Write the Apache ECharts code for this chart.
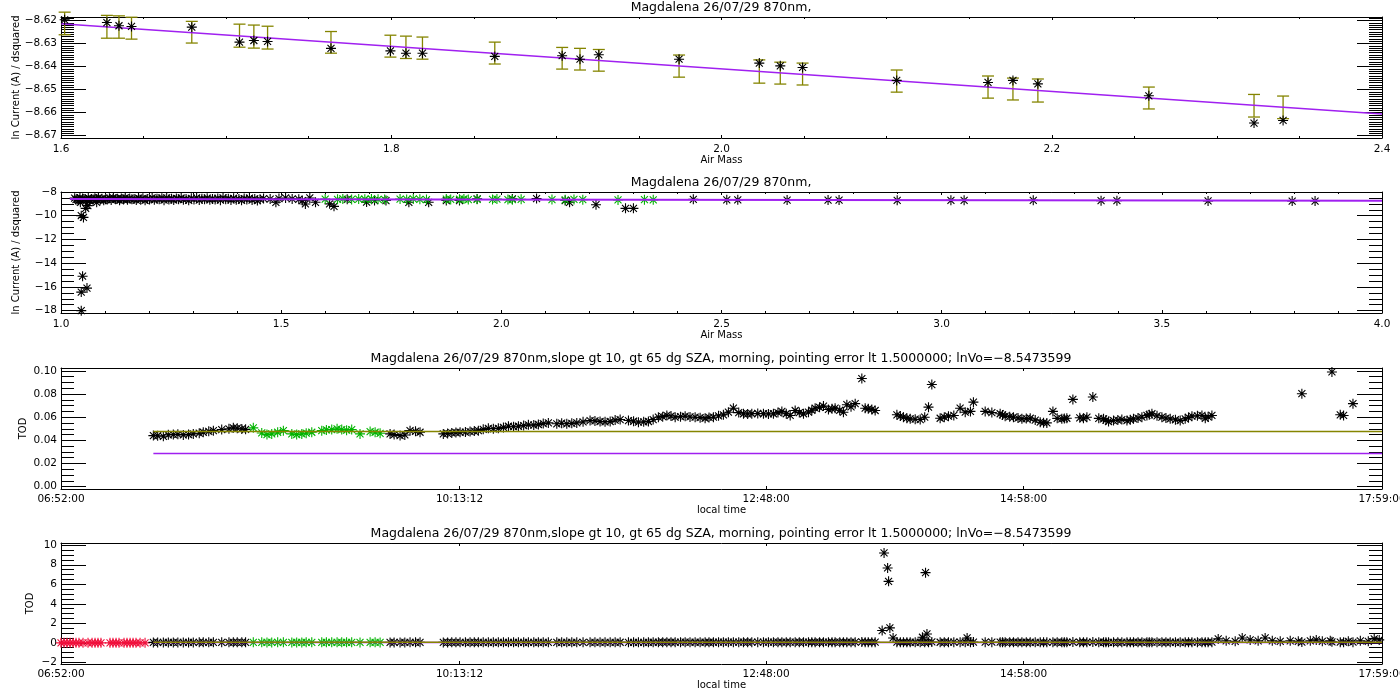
<!DOCTYPE html>
<html>
<head>
<meta charset="utf-8">
<title>Magdalena 26/07/29 870nm</title>
<script src="https://cdn.jsdelivr.net/npm/echarts@6.0.0/dist/echarts.min.js"></script>
<style>
  html, body { margin: 0; padding: 0; background: #fff; }
  #main { width: 1400px; height: 700px; }
</style>
</head>
<body>
<div id="main"></div>
<script>
// ---- panel 1 : Langley points with error bars (air mass 1.6 - 2.4)
var p1AirMass = [1.6022, 1.6278, 1.6351, 1.6427, 1.6792, 1.7081, 1.7168, 1.7251, 1.7635, 1.7995, 1.8089, 1.8189, 1.8627, 1.9035,
  1.9143, 1.9257, 1.9743, 2.0229, 2.0356, 2.0491, 2.1061, 2.1614, 2.1765, 2.1916, 2.2588, 2.3225, 2.3401];
var p1LnCurrent = [-8.6197, -8.6209, -8.6223, -8.6226, -8.6229, -8.6294, -8.6287, -8.6291, -8.6321, -8.6332, -8.6342, -8.6342, -8.6356, -8.6353,
  -8.6368, -8.6349, -8.6368, -8.6385, -8.6397, -8.6404, -8.6460, -8.6469, -8.6460, -8.6475, -8.6527, -8.6645, -8.6634];
var p1ErrHigh = [-8.6164, -8.6178, -8.6180, -8.6186, -8.6204, -8.6216, -8.6220, -8.6225, -8.6248, -8.6264, -8.6268, -8.6272, -8.6294, -8.6317,
  -8.6321, -8.6326, -8.6350, -8.6371, -8.6381, -8.6385, -8.6415, -8.6441, -8.6450, -8.6454, -8.6489, -8.6521, -8.6528];
var p1ErrLow = [-8.6262, -8.6277, -8.6277, -8.6281, -8.6298, -8.6316, -8.6320, -8.6324, -8.6342, -8.6359, -8.6365, -8.6368, -8.6389, -8.6411,
  -8.6415, -8.6420, -8.6446, -8.6472, -8.6476, -8.6480, -8.6511, -8.6537, -8.6545, -8.6554, -8.6584, -8.6619, -8.6626];
var p1FitAirMass = [1.6, 2.4];
var p1FitLn = [-8.6214, -8.6606];

// ---- panel 2 : all points, air mass 1 - 4
var p2BlackAirMass = [1.031, 1.037, 1.043, 1.049, 1.055, 1.062, 1.069, 1.077, 1.085, 1.093, 1.101, 1.110, 1.119, 1.128, 1.137, 1.146,
  1.156, 1.166, 1.176, 1.186, 1.196, 1.207, 1.218, 1.229, 1.240, 1.251, 1.262, 1.273, 1.284, 1.296, 1.308, 1.320, 1.332, 1.344,
  1.356, 1.368, 1.380, 1.392, 1.404, 1.416, 1.428, 1.440, 1.452,
  1.044, 1.046, 1.051, 1.056, 1.061, 1.066, 1.081, 1.049, 1.046, 1.059, 1.046,
  1.460, 1.475, 1.488, 1.495, 1.510, 1.525, 1.540, 1.548, 1.555, 1.565, 1.578, 1.610, 1.620, 1.650, 1.694, 1.712, 1.738, 1.790,
  1.835, 1.875, 1.905, 1.945, 2.025, 2.080, 2.145, 2.155, 2.215, 2.282, 2.300, 2.436,
  2.512, 2.537, 2.649, 2.742, 2.767, 2.899, 3.021, 3.051, 3.208, 3.362, 3.398, 3.605, 3.796, 3.848];
var p2BlackLn = [-8.52, -8.60, -8.48, -8.55, -8.62, -8.50, -8.58, -8.53, -8.49, -8.56, -8.61, -8.52, -8.50, -8.57, -8.54, -8.49,
  -8.55, -8.60, -8.51, -8.53, -8.58, -8.50, -8.56, -8.52, -8.49, -8.57, -8.54, -8.51, -8.59, -8.53, -8.50, -8.56, -8.52, -8.58,
  -8.54, -8.50, -8.57, -8.53, -8.60, -8.55, -8.51, -8.58, -8.62,
  -8.87, -10.0, -10.14, -9.38, -9.15, -8.72, -8.87, -15.1, -16.44, -16.1, -18.0,
  -8.55, -8.60, -8.87, -8.55, -8.50, -8.58, -8.62, -8.72, -9.01, -8.50, -8.87, -9.00, -9.21, -8.62, -8.85, -8.72, -8.72, -8.87,
  -8.87, -8.72, -8.72, -8.58, -8.58, -8.55, -8.72, -8.87, -9.07, -9.38, -9.38, -8.62,
  -8.66, -8.66, -8.68, -8.68, -8.68, -8.70, -8.70, -8.70, -8.70, -8.73, -8.73, -8.75, -8.76, -8.76];
// second row of readings inside the dense low air mass band
var p2BandAirMass = [1.034, 1.040, 1.052, 1.058, 1.065, 1.073, 1.081, 1.089, 1.097, 1.105, 1.114, 1.124, 1.133, 1.142, 1.151, 1.161,
  1.171, 1.181, 1.191, 1.201, 1.212, 1.223, 1.234, 1.245, 1.256, 1.267, 1.278, 1.290, 1.302, 1.314, 1.326, 1.338, 1.350, 1.362,
  1.374, 1.386, 1.398, 1.410, 1.422, 1.434, 1.446];
var p2BandLn = [-8.65, -8.70, -8.62, -8.68, -8.72, -8.64, -8.60, -8.66, -8.70, -8.63, -8.67, -8.61, -8.69, -8.64, -8.66, -8.62,
  -8.68, -8.65, -8.70, -8.63, -8.66, -8.61, -8.69, -8.64, -8.67, -8.62, -8.65, -8.70, -8.63, -8.68, -8.61, -8.66, -8.64, -8.69,
  -8.62, -8.67, -8.65, -8.70, -8.63, -8.68, -8.72];
var p2GreenAirMass = [1.600, 1.628, 1.640, 1.660, 1.676, 1.690, 1.705, 1.720, 1.735, 1.770, 1.785, 1.800, 1.815, 1.830, 1.875, 1.885,
  1.905, 1.915, 1.925, 1.945, 1.980, 1.990, 2.015, 2.025, 2.045, 2.115, 2.145, 2.165, 2.185, 2.265, 2.325, 2.345];
var p2GreenLn = [-8.60, -8.62, -8.58, -8.63, -8.60, -8.61, -8.59, -8.62, -8.64, -8.60, -8.63, -8.58, -8.62, -8.64, -8.60, -8.63,
  -8.61, -8.59, -8.64, -8.62, -8.63, -8.60, -8.64, -8.65, -8.62, -8.64, -8.66, -8.63, -8.65, -8.67, -8.65, -8.66];
var p2FitAirMass = [1.02, 4.0];
var p2FitLn = [-8.595, -8.736];

// ---- panel 3 / 4 : TOD against local time (decimal hours)
var todBlackTime = [7.644, 7.728, 7.812, 7.896, 7.980, 8.064, 8.149, 8.219, 8.317, 8.388,
  9.636, 9.720, 9.804, 9.888, 10.084, 10.155, 10.225, 10.309, 10.379, 10.463, 10.547, 10.632, 10.716, 10.800, 10.884, 10.968,
  11.039, 11.123, 11.207, 11.319, 11.403, 11.488, 11.572, 11.642, 11.726, 11.810, 11.894, 11.965, 12.035, 12.119, 12.203, 12.287,
  12.357, 12.441, 12.483, 12.525, 12.610, 12.680, 12.778, 12.862, 12.933, 13.003, 13.045, 13.115, 13.157, 13.213, 13.283, 13.325,
  13.381, 13.451, 13.480, 13.550, 13.606, 13.634, 13.690, 13.718, 13.901, 13.956, 14.013, 14.097, 14.167, 14.195, 14.265, 14.335,
  14.433, 14.476, 14.545, 14.644, 14.770, 14.812, 14.882, 14.953, 15.023, 15.107, 15.163, 15.214, 15.289, 15.331, 15.382, 15.471,
  15.500, 15.550, 15.640, 15.682, 15.724, 15.794, 15.837, 15.892, 15.963, 16.005, 16.047, 16.131, 16.201, 16.285, 16.327, 16.384,
  16.468, 16.496, 16.552, 17.309, 17.562, 17.632, 17.660, 17.739];
var todBlack = [0.0441, 0.0435, 0.0450, 0.0447, 0.0456, 0.0470, 0.0484, 0.0493, 0.0508, 0.0499,
  0.0456, 0.0441, 0.0484, 0.0470, 0.0456, 0.0464, 0.0470, 0.0476, 0.0484, 0.0504, 0.0504, 0.0522, 0.0522, 0.0534, 0.0537, 0.0551,
  0.0543, 0.0543, 0.0551, 0.0571, 0.0563, 0.0563, 0.0580, 0.0571, 0.0557, 0.0563, 0.0600, 0.0615, 0.0600, 0.0609, 0.0600, 0.0591,
  0.0600, 0.0621, 0.0643, 0.0678, 0.0630, 0.0630, 0.0630, 0.0630, 0.0650, 0.0615, 0.0658, 0.0630, 0.0643, 0.0678, 0.0696, 0.0667,
  0.0678, 0.0643, 0.0708, 0.0717, 0.0934, 0.0678, 0.0667, 0.0658, 0.0621, 0.0600, 0.0586, 0.0580, 0.0687, 0.0882, 0.0591, 0.0609,
  0.0678, 0.0643, 0.0730, 0.0650, 0.0630, 0.0609, 0.0600, 0.0586, 0.0591, 0.0557, 0.0551, 0.0650, 0.0586, 0.0591, 0.0754, 0.0591,
  0.0600, 0.0774, 0.0586, 0.0563, 0.0571, 0.0580, 0.0571, 0.0586, 0.0600, 0.0615, 0.0630, 0.0600, 0.0586, 0.0571, 0.0586, 0.0609,
  0.0615, 0.0591, 0.0615, 0.0803, 0.0991, 0.0621, 0.0615, 0.0717];
// further overlapping readings inside the black clusters
var todBlack2Time = [7.680, 7.770, 7.850, 7.940, 8.030, 8.110, 8.280, 8.350, 8.420,
  9.670, 9.760, 9.850, 10.120, 10.190, 10.270, 10.345, 10.420, 10.505, 10.590, 10.675, 10.760, 10.845, 10.925, 11.080, 11.165,
  11.260, 11.360, 11.445, 11.530, 11.685, 11.770, 11.850, 11.930, 12.000, 12.080, 12.160, 12.245, 12.320, 12.400, 12.570, 12.645,
  12.730, 12.820, 12.900, 12.970, 13.080, 13.185, 13.250, 13.355, 13.420, 13.515, 13.660, 13.930, 13.985, 14.055, 14.135, 14.300,
  14.380, 14.520, 14.700, 14.790, 14.850, 14.920, 14.990, 15.065, 15.135, 15.250, 15.310, 15.440, 15.600, 15.660, 15.760, 15.865,
  15.930, 16.025, 16.090, 16.165, 16.245, 16.355, 16.430, 16.520];
var todBlack2 = [0.0440, 0.0448, 0.0452, 0.0450, 0.0462, 0.0478, 0.0500, 0.0505, 0.0495,
  0.0450, 0.0447, 0.0478, 0.0460, 0.0468, 0.0472, 0.0480, 0.0495, 0.0500, 0.0512, 0.0518, 0.0528, 0.0532, 0.0545, 0.0548, 0.0547,
  0.0560, 0.0568, 0.0560, 0.0575, 0.0565, 0.0560, 0.0580, 0.0605, 0.0610, 0.0605, 0.0602, 0.0596, 0.0598, 0.0612, 0.0640, 0.0628,
  0.0632, 0.0628, 0.0640, 0.0630, 0.0640, 0.0660, 0.0685, 0.0672, 0.0660, 0.0690, 0.0672, 0.0610, 0.0592, 0.0583, 0.0600, 0.0600,
  0.0615, 0.0650, 0.0640, 0.0620, 0.0605, 0.0593, 0.0588, 0.0575, 0.0553, 0.0590, 0.0588, 0.0595, 0.0590, 0.0575, 0.0575, 0.0578,
  0.0593, 0.0622, 0.0612, 0.0593, 0.0578, 0.0598, 0.0612, 0.0603];
var todGreenTime = [8.485, 8.556, 8.600, 8.640, 8.690, 8.738, 8.809, 8.850, 8.893, 8.930, 8.977, 9.061, 9.100, 9.145, 9.190, 9.229,
  9.270, 9.313, 9.383, 9.468, 9.510, 9.552];
var todGreen = [0.0508, 0.0464, 0.0450, 0.0456, 0.0470, 0.0484, 0.0456, 0.0450, 0.0456, 0.0462, 0.0470, 0.0484, 0.0490, 0.0493, 0.0500, 0.0493,
  0.0488, 0.0493, 0.0456, 0.0476, 0.0470, 0.0461];
// points only visible on the wide TOD scale
var todRedTime = [6.867, 6.892, 6.917, 6.943, 6.968, 6.993, 7.018, 7.052, 7.094, 7.128, 7.153, 7.178, 7.203, 7.279, 7.304, 7.330,
  7.355, 7.397, 7.422, 7.448, 7.473, 7.498, 7.532, 7.574];
var todRed = [0, 0, 0, 0, 0, 0, 0, 0, 0, 0, 0, 0, 0, 0, 0, 0, 0, 0, 0, 0, 0, 0, 0, 0];
var todHighTime = [13.777, 13.793, 13.823, 13.831, 13.842, 13.869, 14.116, 14.142, 14.154, 14.492,
  16.605, 16.672, 16.748, 16.807, 16.874, 16.941, 17.000, 17.060, 17.127, 17.211, 17.279, 17.380, 17.430, 17.481, 17.548,
  17.700, 17.801, 17.868, 17.918, 17.960];
var todHigh = [1.26, 9.21, 7.67, 6.30, 1.53, 0.50, 0.57, 7.19, 0.91, 0.50,
  0.40, 0.20, 0.15, 0.50, 0.30, 0.20, 0.50, 0.20, 0.15, 0.20, 0.15, 0.20, 0.30, 0.15, 0.20,
  0.15, 0.20, 0.15, 0.40, 0.30];
var todLineTime = [7.644, 17.9833];
var todOliveLine = [0.0476, 0.0476];
var todPurpleLine = [0.0287, 0.0287];

var timeTickLabels = ['06:52:00', '10:13:12', '12:48:00', '14:58:00', '17:59:00'];
var titleShort = 'Magdalena 26/07/29 870nm,';
var titleLong = 'Magdalena 26/07/29 870nm,slope gt 10, gt 65 dg SZA, morning, pointing error lt 1.5000000; lnVo=\u22128.5473599';

var OLIVE = '#858500', PURPLE = '#a020f0', GREEN = '#00b400', RED = '#f0103c', BLACK = '#000';
var FONT = 'DejaVu Sans';
var STAR = 'path://M5,0L5,10M0,5L10,5M1.5,1.5L8.5,8.5M1.5,8.5L8.5,1.5';
var TOPS = [17, 192, 368, 543], H = 121;

function zip(a, b) { return a.map(function (v, i) { return [v, b[i]]; }); }
function ticks(a, b, step) {
  var out = [];
  for (var v = a; v <= b + step / 1000; v += step) out.push(+v.toFixed(6));
  return out;
}
function hours(s) { var p = s.split(':'); return +p[0] + p[1] / 60 + p[2] / 3600; }
function hms(v) {
  var s = Math.round(v * 3600), h = Math.floor(s / 3600), m = Math.floor((s % 3600) / 60), sec = s % 60;
  function two(n) { return (n < 10 ? '0' : '') + n; }
  return two(h) + ':' + two(m) + ':' + two(sec);
}
function minus(str) { return str.replace('-', '\u2212'); }

var grids = [], xAxes = [], yAxes = [], series = [], graphics = [];

// one side of the frame: labelled axis + mirror axis, plus optional minor ticks
function frame(gi, dim, c) {
  var list = dim === 'x' ? xAxes : yAxes;
  var sides = dim === 'x' ? ['bottom', 'top'] : ['left', 'right'];
  var mainIdx = list.length;
  sides.forEach(function (p, k) {
    list.push({
      gridIndex: gi, type: 'value', position: p, min: c.min, max: c.max,
      axisLine: { show: true, onZero: false, lineStyle: { color: BLACK, width: 1 } },
      axisTick: { show: true, inside: true, length: c.len, customValues: c.major, lineStyle: { color: BLACK, width: 1 } },
      axisLabel: k === 0 ? { show: true, customValues: c.major, formatter: c.fmt, color: BLACK, fontFamily: FONT,
        fontSize: 10.5, margin: c.margin } : { show: false },
      splitLine: { show: false },
      name: k === 0 ? c.name : '', nameLocation: 'middle', nameGap: c.nameGap, nameMoveOverlap: false,
      nameTextStyle: { color: BLACK, fontFamily: FONT, fontSize: 10 }
    });
    if (c.minor) {
      list.push({
        gridIndex: gi, type: 'value', position: p, min: c.min, max: c.max,
        axisLine: { show: false, onZero: false },
        axisTick: { show: true, inside: true, length: Math.round(c.len / 2), customValues: c.minor, lineStyle: { color: BLACK, width: 1 } },
        axisLabel: { show: false }, splitLine: { show: false }
      });
    }
  });
  return mainIdx;
}

function panel(gi, xc, yc, title) {
  grids.push({ left: 61, right: 18, top: TOPS[gi], height: H, containLabel: false, outerBoundsMode: 'none' });
  var xi = frame(gi, 'x', xc), yi = frame(gi, 'y', yc);
  graphics.push({
    type: 'text', x: 721, y: TOPS[gi] - 9, silent: true,
    style: { text: title, fill: BLACK, font: '12.5px "' + FONT + '"', align: 'center', verticalAlign: 'middle',
      textAlign: 'center', textVerticalAlign: 'middle' }
  });
  return { x: xi, y: yi };
}

function stars(ax, data, color, z) {
  series.push({
    type: 'scatter', xAxisIndex: ax.x, yAxisIndex: ax.y, data: data, symbol: STAR, symbolSize: 10,
    itemStyle: { color: color, borderColor: color, borderWidth: 1.1, opacity: 1 }, silent: true, z: z || 4
  });
}
function line(ax, data, color, width, z) {
  series.push({
    type: 'line', xAxisIndex: ax.x, yAxisIndex: ax.y, data: data, showSymbol: false, symbol: 'none',
    lineStyle: { color: color, width: width, opacity: 1 }, silent: true, z: z || 5
  });
}

var amFmt = function (v) { return v.toFixed(1); };
var tMin = hours(timeTickLabels[0]), tMax = hours(timeTickLabels[timeTickLabels.length - 1]);
var timeTicks = timeTickLabels.map(hours);

// panel 1
var a1 = panel(0,
  { min: 1.6, max: 2.4, major: ticks(1.6, 2.4, 0.2), minor: ticks(1.6, 2.4, 0.05), len: 3, fmt: amFmt, margin: 6, name: 'Air Mass', nameGap: 17 },
  { min: -8.671, max: -8.6185, major: ticks(-8.67, -8.62, 0.01), minor: ticks(-8.671, -8.619, 0.001), len: 25,
    fmt: function (v) { return minus(v.toFixed(2)); }, margin: 4, name: 'ln Current (A) / dsquared', nameGap: 40 },
  titleShort);
series.push({
  type: 'custom', xAxisIndex: a1.x, yAxisIndex: a1.y, clip: false, silent: true, z: 2,
  data: p1AirMass.map(function (m, i) { return [m, p1ErrLow[i], p1ErrHigh[i]]; }),
  encode: { x: 0, y: [1, 2] },
  renderItem: function (params, api) {
    var lo = api.coord([api.value(0), api.value(1)]), hi = api.coord([api.value(0), api.value(2)]), w = 6;
    var st = { stroke: OLIVE, lineWidth: 1.3 };
    return { type: 'group', children: [
      { type: 'line', shape: { x1: lo[0], y1: lo[1], x2: hi[0], y2: hi[1] }, style: st },
      { type: 'line', shape: { x1: lo[0] - w, y1: lo[1], x2: lo[0] + w, y2: lo[1] }, style: st },
      { type: 'line', shape: { x1: hi[0] - w, y1: hi[1], x2: hi[0] + w, y2: hi[1] }, style: st }
    ] };
  }
});
line(a1, zip(p1FitAirMass, p1FitLn), PURPLE, 1.5, 3);
stars(a1, zip(p1AirMass, p1LnCurrent), BLACK, 4);

// panel 2
var a2 = panel(1,
  { min: 1.0, max: 4.0, major: ticks(1.0, 4.0, 0.5), minor: ticks(1.0, 4.0, 0.1), len: 3, fmt: amFmt, margin: 6, name: 'Air Mass', nameGap: 17 },
  { min: -18.2, max: -8.0, major: ticks(-18, -8, 2), minor: ticks(-18, -8, 0.5), len: 25,
    fmt: function (v) { return minus(String(Math.round(v))); }, margin: 4, name: 'ln Current (A) / dsquared', nameGap: 40 },
  titleShort);
stars(a2, zip(p2BlackAirMass, p2BlackLn), BLACK, 3);
stars(a2, zip(p2BandAirMass, p2BandLn), BLACK, 3);
stars(a2, zip(p2GreenAirMass, p2GreenLn), GREEN, 4);
line(a2, zip(p2FitAirMass, p2FitLn), PURPLE, 2, 5);

// panel 3
var timeX = { min: tMin, max: tMax, major: timeTicks, minor: null, len: 3, fmt: hms, margin: 5, name: 'local time', nameGap: 16 };
var a3 = panel(2, timeX,
  { min: -0.002, max: 0.1025, major: ticks(0, 0.1, 0.02), minor: ticks(0, 0.1, 0.005), len: 25,
    fmt: function (v) { return v.toFixed(2); }, margin: 4, name: 'TOD', nameGap: 33 },
  titleLong);
stars(a3, zip(todBlackTime, todBlack), BLACK, 3);
stars(a3, zip(todBlack2Time, todBlack2), BLACK, 3);
stars(a3, zip(todGreenTime, todGreen), GREEN, 4);
line(a3, zip(todLineTime, todOliveLine), OLIVE, 1.5, 5);
line(a3, zip(todLineTime, todPurpleLine), PURPLE, 1.5, 5);

// panel 4
var a4 = panel(3, timeX,
  { min: -2.17, max: 10.23, major: ticks(-2, 10, 2), minor: ticks(-2, 10, 0.5), len: 25,
    fmt: function (v) { return minus(String(Math.round(v))); }, margin: 4, name: 'TOD', nameGap: 26 },
  titleLong);
stars(a4, zip(todRedTime, todRed), RED, 3);
stars(a4, zip(todBlackTime, todBlack), BLACK, 3);
stars(a4, zip(todBlack2Time, todBlack2), BLACK, 3);
stars(a4, zip(todHighTime, todHigh), BLACK, 3);
stars(a4, zip(todGreenTime, todGreen), GREEN, 4);
line(a4, zip(todLineTime, todPurpleLine), PURPLE, 1.5, 5);
line(a4, zip(todLineTime, todOliveLine), OLIVE, 1.5, 6);

var chart = echarts.init(document.getElementById('main'));
chart.setOption({
  backgroundColor: '#fff',
  animation: false,
  grid: grids,
  xAxis: xAxes,
  yAxis: yAxes,
  series: series,
  graphic: graphics
});
</script>
</body>
</html>
